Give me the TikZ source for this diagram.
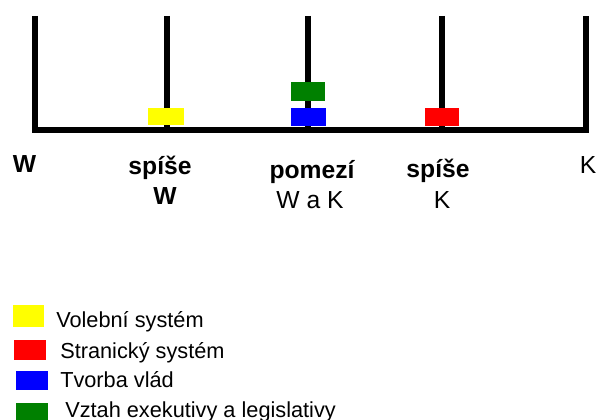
\documentclass[tikz,border=0pt]{standalone}
\usepackage{fontspec}
\setmainfont{Liberation Sans}
\definecolor{cyellow}{RGB}{255,255,0}
\definecolor{cred}{RGB}{255,0,0}
\definecolor{cblue}{RGB}{0,0,255}
\definecolor{cgreen}{RGB}{0,128,0}
\begin{document}
\begin{tikzpicture}[x=0.75pt,y=-0.75pt,
  axisline/.style={line width=4.5pt, line join=miter, line cap=butt},
  toplabel/.style={anchor=base, inner sep=0pt, font=\fontsize{18.5}{20}\selectfont\bfseries},
  toplabelr/.style={anchor=base, inner sep=0pt, font=\fontsize{18.5}{20}\selectfont},
  legtext/.style={anchor=base west, inner sep=0pt, font=\fontsize{16.3}{18}\selectfont}]
\useasboundingbox (0,0) rectangle (598,420);
% axis frame
\coordinate (tl) at (34.5,16);
\coordinate (tr) at (586,16);
\draw[axisline] (tl) |- (tr |- 0,130) -- (tr);
\coordinate (t1) at (167,16);
\coordinate (t2) at (308,16);
\coordinate (t3) at (442,16);
\draw[axisline] (t1) -- (167,130);
\draw[axisline] (t2) -- (308,130);
\draw[axisline] (t3) -- (442,130);
% markers
\fill[cyellow] (148,108) rectangle (184,125);
\fill[cblue] (291,108) rectangle (326,126);
\fill[cgreen] (291,82) rectangle (325,101);
\fill[cred] (425,108) rectangle (459,126);
% axis labels
\node[toplabel] (lw) at (24.5,172) {W};
\node[toplabel] (l1a) at (160,175) {spíše};
\node[toplabel] (l1b) at (165,204) {W};
\node[toplabel] (l2a) at (312,178) {pomezí};
\node[toplabelr] (l2b) at (310,208) {W a K};
\node[toplabel] (l3a) at (438,177) {spíše};
\node[toplabelr] (l3b) at (442,208) {K};
\node[toplabelr] (lk) at (588,174) {K};
% legend
\fill[cyellow] (13,305) rectangle (44,327);
\fill[cred] (14,340) rectangle (46,360);
\fill[cblue] (16,371) rectangle (48,390);
\fill[cgreen] (16,403) rectangle (48,420);
\node[legtext] (g1) at (56,327) {Volební systém};
\node[legtext] (g2) at (60,358) {Stranický systém};
\node[legtext] (g3) at (60,387) {Tvorba vlád};
\node[legtext] (g4) at (65,417) {Vztah exekutivy a legislativy};
\end{tikzpicture}
\end{document}
